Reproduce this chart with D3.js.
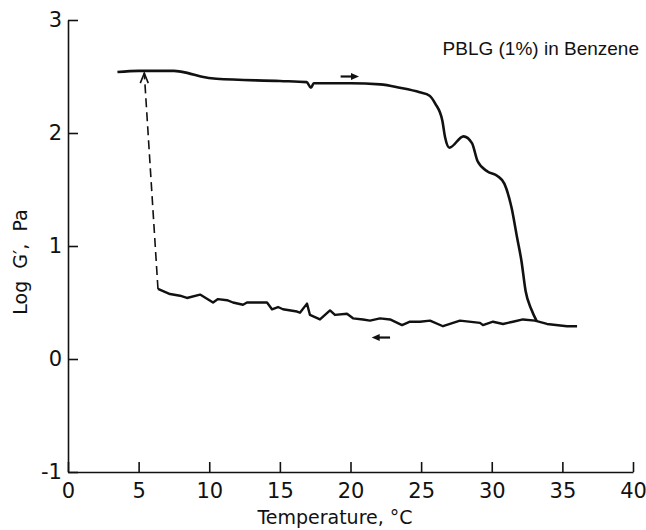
<!DOCTYPE html>
<html>
<head>
<meta charset="utf-8">
<script src="https://cdn.jsdelivr.net/npm/d3@7"></script>
<style>
  body { margin: 0; background: #fff; }
  svg text { fill: #111; }
</style>
</head>
<body>
<div id="chart"></div>
<script>
// heating run (solid, top) - temperature, log G'
const heatT = [3.5, 5.0, 7.5, 8.5, 9.4, 10.5, 15.0, 16.9, 17.2, 17.4, 20.0, 22.1, 23.5, 24.9, 25.6, 26.0, 26.5, 26.7, 27.0, 28.0, 28.6, 29.0, 29.7, 30.4, 30.9, 31.4, 31.8, 32.1, 32.4, 32.8, 33.2];
const heatG = [2.54, 2.55, 2.55, 2.53, 2.50, 2.48, 2.46, 2.45, 2.40, 2.44, 2.44, 2.43, 2.40, 2.36, 2.33, 2.26, 2.11, 1.96, 1.87, 1.97, 1.91, 1.75, 1.66, 1.62, 1.55, 1.34, 1.07, 0.87, 0.60, 0.44, 0.33];

// cooling run (noisy, bottom)
const coolT = [6.37, 7.22, 7.93, 8.42, 9.35, 10.27, 10.62, 11.26, 11.68, 12.39, 12.67, 14.09, 14.44, 14.87, 15.22, 16.21, 16.42, 16.92, 17.13, 17.84, 18.55, 18.90, 19.75, 20.18, 20.88, 21.38, 22.09, 22.80, 23.65, 24.21, 24.92, 25.63, 26.55, 27.75, 29.17, 29.38, 30.09, 30.80, 31.50, 32.21, 33.06, 33.91, 35.33, 36.04];
const coolG = [0.62, 0.575, 0.56, 0.54, 0.57, 0.50, 0.53, 0.52, 0.50, 0.48, 0.50, 0.50, 0.44, 0.46, 0.44, 0.42, 0.41, 0.49, 0.39, 0.35, 0.43, 0.39, 0.40, 0.36, 0.35, 0.34, 0.36, 0.35, 0.30, 0.33, 0.33, 0.34, 0.29, 0.34, 0.32, 0.30, 0.33, 0.31, 0.33, 0.35, 0.34, 0.31, 0.29, 0.29];

// dashed jump back up after cooling
const jumpT = [6.37, 5.4];
const jumpG = [0.62, 2.53];

const xTicks = [0, 5, 10, 15, 20, 25, 30, 35, 40];
const yTicks = [-1, 0, 1, 2, 3];

const width = 646, height = 530;

const svg = d3.select("#chart").append("svg")
    .attr("width", width)
    .attr("height", height);

const x = d3.scaleLinear().domain([0, 40]).range([68, 633]);
const y = d3.scaleLinear().domain([-1, 3]).range([472, 20]);

const tickFont = "DejaVu Sans, sans-serif";

const xAxis = svg.append("g")
    .attr("transform", `translate(0,${y(-1)})`)
    .call(d3.axisBottom(x).tickValues(xTicks).tickSizeInner(-10).tickSizeOuter(0).tickPadding(11));

const yAxis = svg.append("g")
    .attr("transform", `translate(${x(0)},0)`)
    .call(d3.axisLeft(y).tickValues(yTicks).tickSizeInner(-10).tickSizeOuter(0).tickPadding(6)
        .tickFormat(d => d < 0 ? "-" + (-d) : d));

[xAxis, yAxis].forEach(g => {
    g.select(".domain").attr("stroke", "#111").attr("stroke-width", 1.6);
    g.selectAll(".tick line").attr("stroke", "#111").attr("stroke-width", 1.6);
    g.selectAll(".tick text")
        .attr("fill", "#111")
        .style("font-family", tickFont)
        .style("font-size", "21px");
});

const line = d3.line()
    .x(d => x(d[0]))
    .y(d => y(d[1]));

// heating curve
svg.append("path")
    .datum(d3.zip(heatT, heatG))
    .attr("fill", "none")
    .attr("stroke", "#111")
    .attr("stroke-width", 2.6)
    .attr("stroke-linejoin", "round")
    .attr("d", line.curve(d3.curveMonotoneX));

// cooling curve
svg.append("path")
    .datum(d3.zip(coolT, coolG))
    .attr("fill", "none")
    .attr("stroke", "#111")
    .attr("stroke-width", 2.4)
    .attr("stroke-linejoin", "round")
    .attr("d", line.curve(d3.curveLinear));

// dashed jump
svg.append("path")
    .datum(d3.zip(jumpT, jumpG))
    .attr("fill", "none")
    .attr("stroke", "#111")
    .attr("stroke-width", 1.6)
    .attr("stroke-dasharray", "9,5")
    .attr("d", line.curve(d3.curveLinear));

// arrow head on top of the dashed line
const tipX = x(jumpT[1]), tipY = y(jumpG[1]);
svg.append("path")
    .attr("d", `M${tipX - 4},${tipY + 10} L${tipX},${tipY} L${tipX + 4},${tipY + 10}`)
    .attr("fill", "none")
    .attr("stroke", "#111")
    .attr("stroke-width", 1.6);

// direction arrows
function arrow(x0, x1, yv) {
    const px0 = x(x0), px1 = x(x1), py = y(yv);
    const dir = Math.sign(px1 - px0);
    svg.append("line")
        .attr("x1", px0).attr("x2", px1 - dir * 5)
        .attr("y1", py).attr("y2", py)
        .attr("stroke", "#111").attr("stroke-width", 2.2);
    svg.append("path")
        .attr("d", `M${px1},${py} L${px1 - dir * 8},${py - 3.5} L${px1 - dir * 8},${py + 3.5} Z`)
        .attr("fill", "#111");
}
arrow(19.3, 20.6, 2.50);
arrow(22.8, 21.5, 0.19);

// labels
svg.append("text")
    .attr("x", 335)
    .attr("y", 524)
    .attr("text-anchor", "middle")
    .style("font-family", tickFont)
    .style("font-size", "19px")
    .text("Temperature, °C");

svg.append("text")
    .attr("transform", "translate(27,262) rotate(-90)")
    .attr("text-anchor", "middle")
    .style("font-family", tickFont)
    .style("font-size", "19px")
    .style("white-space", "pre")
    .text("Log  G′,  Pa");

svg.append("text")
    .attr("x", 639)
    .attr("y", 55)
    .attr("text-anchor", "end")
    .style("font-family", "Liberation Sans, Arial, sans-serif")
    .style("font-size", "19px")
    .text("PBLG (1%) in Benzene");
</script>
</body>
</html>
